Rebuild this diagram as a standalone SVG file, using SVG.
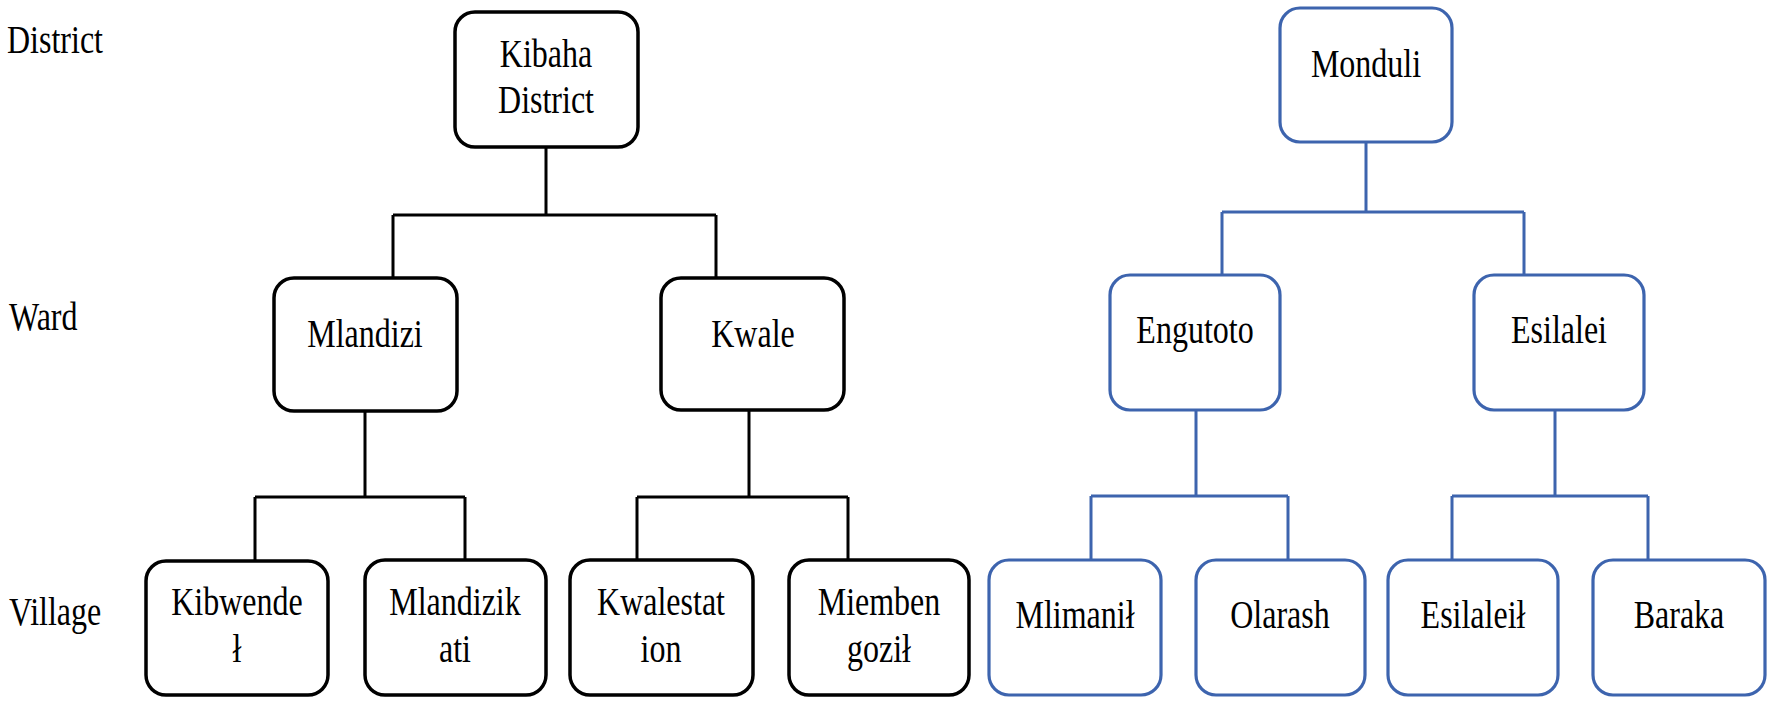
<svg xmlns="http://www.w3.org/2000/svg" width="1772" height="703" viewBox="0 0 1772 703">
<style>
  .bg { fill: #ffffff; }
  .nb { fill: #ffffff; stroke: #000000; stroke-width: 3.5; }
  .nu { fill: #ffffff; stroke: #3D64AE; stroke-width: 3.2; }
  .cb { fill: none; stroke: #000000; stroke-width: 3; }
  .cu { fill: none; stroke: #3D64AE; stroke-width: 3; }
  text { font-family: "Liberation Serif", "Times New Roman", serif; font-size: 32px; fill: #000000; }
  .c { text-anchor: middle; }
</style>
<rect class="bg" x="0" y="0" width="1772" height="703"/>

<g id="level-labels">
  <text transform="translate(7,53) scale(1,1.22)">District</text>
  <text transform="translate(9,330) scale(1,1.22)">Ward</text>
  <text transform="translate(9,625) scale(1,1.22)">Village</text>
</g>

<g id="connectors">
  <path class="cb" d="M546 147 V215 M393 215 H716 M393 215 V278 M716 215 V278"/>
  <path class="cb" d="M365 411 V497 M255 497 H465 M255 497 V561 M465 497 V560"/>
  <path class="cb" d="M749 410 V497 M637 497 H848 M637 497 V560 M848 497 V560"/>
  <path class="cu" d="M1366 142 V212 M1222 212 H1524 M1222 212 V275 M1524 212 V275"/>
  <path class="cu" d="M1196 410 V496 M1091 496 H1288 M1091 496 V560 M1288 496 V560"/>
  <path class="cu" d="M1555 410 V496 M1452 496 H1648 M1452 496 V560 M1648 496 V560"/>
</g>

<g id="node-kibaha">
  <rect class="nb" x="455" y="12" width="183" height="135" rx="20"/>
  <text class="c" transform="translate(546,67) scale(1,1.22)">Kibaha</text>
  <text class="c" transform="translate(546,113) scale(1,1.22)">District</text>
</g>
<g id="node-mlandizi">
  <rect class="nb" x="274" y="278" width="183" height="133" rx="20"/>
  <text class="c" transform="translate(365,347) scale(1,1.22)">Mlandizi</text>
</g>
<g id="node-kwale">
  <rect class="nb" x="661" y="278" width="183" height="132" rx="20"/>
  <text class="c" transform="translate(753,347) scale(1,1.22)">Kwale</text>
</g>
<g id="node-kibwende">
  <rect class="nb" x="146" y="561" width="182" height="134" rx="20"/>
  <text class="c" transform="translate(237,615) scale(1,1.22)">Kibwende</text>
  <text class="c" transform="translate(237,662) scale(1,1.22)">ł</text>
</g>
<g id="node-mlandizikati">
  <rect class="nb" x="365" y="560" width="181" height="135" rx="20"/>
  <text class="c" transform="translate(455,615) scale(1,1.22)">Mlandizik</text>
  <text class="c" transform="translate(455,662) scale(1,1.22)">ati</text>
</g>
<g id="node-kwalestation">
  <rect class="nb" x="570" y="560" width="183" height="135" rx="20"/>
  <text class="c" transform="translate(661,615) scale(1,1.22)">Kwalestat</text>
  <text class="c" transform="translate(661,662) scale(1,1.22)">ion</text>
</g>
<g id="node-miembengozil">
  <rect class="nb" x="789" y="560" width="180" height="135" rx="20"/>
  <text class="c" transform="translate(879,615) scale(1,1.22)">Miemben</text>
  <text class="c" transform="translate(879,662) scale(1,1.22)">goził</text>
</g>

<g id="node-monduli">
  <rect class="nu" x="1280" y="8" width="172" height="134" rx="20"/>
  <text class="c" transform="translate(1366,77) scale(1,1.22)">Monduli</text>
</g>
<g id="node-engutoto">
  <rect class="nu" x="1110" y="275" width="170" height="135" rx="20"/>
  <text class="c" transform="translate(1195,343) scale(1,1.22)">Engutoto</text>
</g>
<g id="node-esilalei">
  <rect class="nu" x="1474" y="275" width="170" height="135" rx="20"/>
  <text class="c" transform="translate(1559,343) scale(1,1.22)">Esilalei</text>
</g>
<g id="node-mlimanil">
  <rect class="nu" x="989" y="560" width="172" height="135" rx="20"/>
  <text class="c" transform="translate(1075,628) scale(1,1.22)">Mlimanił</text>
</g>
<g id="node-olarash">
  <rect class="nu" x="1196" y="560" width="169" height="135" rx="20"/>
  <text class="c" transform="translate(1280,628) scale(1,1.22)">Olarash</text>
</g>
<g id="node-esilaleil">
  <rect class="nu" x="1388" y="560" width="170" height="135" rx="20"/>
  <text class="c" transform="translate(1473,628) scale(1,1.22)">Esilaleił</text>
</g>
<g id="node-baraka">
  <rect class="nu" x="1593" y="560" width="172" height="135" rx="20"/>
  <text class="c" transform="translate(1679,628) scale(1,1.22)">Baraka</text>
</g>
</svg>
